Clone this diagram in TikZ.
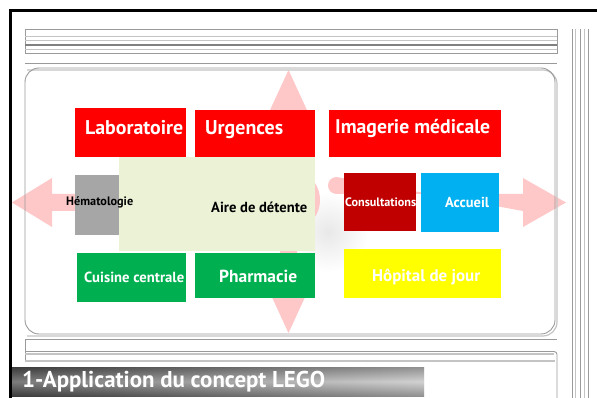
\documentclass[tikz,border=0pt]{standalone}
\usepackage{fontspec}
\setmainfont{PT Sans}
\usepackage{graphicx}
\newcommand{\fitw}[2]{\resizebox{#1pt}{!}{#2}}
\definecolor{cred}{HTML}{FF0000}
\definecolor{cdred}{HTML}{C00000}
\definecolor{ccyan}{HTML}{00B0F0}
\definecolor{cgreen}{HTML}{00B050}
\definecolor{cyel}{HTML}{FFFF00}
\definecolor{cgray}{HTML}{A6A6A6}
\definecolor{caire}{HTML}{EBF2D6}
\definecolor{cpink}{HTML}{FFC8C8}
\definecolor{frameA}{HTML}{9A9A9A}
\definecolor{frameB}{HTML}{C4C4C4}
\begin{document}
\begin{tikzpicture}[x=1pt,y=-1pt,
  box/.style={draw=none,rectangle,inner sep=0,anchor=north west},
  lbl/.style={inner sep=0,anchor=base west,font=\bfseries,text=white},
  dlbl/.style={inner sep=0,anchor=base west,font=\bfseries,text=black},
  fl/.style={draw=frameA,line width=0.9pt},
  fl2/.style={draw=frameB,line width=1.2pt}]
\useasboundingbox[fill=white] (0,0) rectangle (597,398);

% soft glow
\shade[inner color=black!9,outer color=white] (328,232) circle (40);

% pink four-way arrows
\fill[cpink] (289,200) circle (31);
\fill[cpink] (12,202.5) -- (52,178) -- (52,194) -- (262,194) -- (262,211) -- (52,211) -- (52,227) -- cycle;
\fill[cpink] (566,202.5) -- (523,178) -- (523,194) -- (336.5,194) arc (90:270:8.5) -- (523,211) -- (523,227) -- cycle;
\fill[cpink] (288.5,70) -- (312.5,122) -- (297,122) -- (297,180) -- (280,180) -- (280,122) -- (264.5,122) -- cycle;
\fill[cpink] (288.5,333) -- (312.5,281) -- (297,281) -- (297,220) -- (280,220) -- (280,281) -- (264.5,281) -- cycle;

% top bar
\draw[fl] (25,29) rectangle (557,53);
\draw[draw=frameB,line width=0.8pt] (25,36) -- (557,36);
\draw[draw=frameB,line width=0.6pt] (25,40) -- (557,40);
\draw[draw=gray,line width=1.4pt] (25,45) -- (557,45);
\draw[draw=frameB,line width=1.6pt] (25,49.5) -- (557,49.5);
\draw[fl] (25,63.5) -- (557,63.5);

% main rounded frame
\draw[fl2] (27,70) [rounded corners=14pt] -- (557,70) -- (557,336) -- (27,336);
\draw[fl,rounded corners=14pt] (25,68) rectangle (555,334);

% right vertical lines
\draw[fl] (572,29) -- (572,398);
\draw[draw=frameB,line width=1pt] (575.5,29) -- (575.5,398);
\draw[fl] (580,29) -- (580,398);
\draw[draw=frameB,line width=1pt] (584,29) -- (584,398);
\draw[fl] (588.5,29) -- (588.5,398);

% bottom bar
\draw[fl] (25,362) -- (25,339) -- (557,339);
\draw[draw=frameB,line width=1.6pt] (25,354) -- (554,354);
\draw[fl,rounded corners=3pt] (25,351.5) -- (557,351.5) -- (557,398);
\draw[draw=frameB,line width=1.2pt] (25,361) -- (555,361);

% title bar
\shade[left color={rgb,255:red,80;green,80;blue,80},right color={rgb,255:red,195;green,195;blue,195}] (12,367) rectangle (424,396);
\shade[top color=black,bottom color=black,middle color=white,opacity=0.25] (12,367) rectangle (424,396);
\node[lbl] (title) at (22,387) {\fitw{303}{1-Application du concept LEGO}};

% black frame
\draw[line width=3pt] (10.5,398) -- (10.5,10.5) -- (597,10.5);

% boxes
\node[box,fill=cred,minimum width=111pt,minimum height=49pt] (lab) at (75,108) {};
\node[box,fill=cred,minimum width=120pt,minimum height=47pt] (urg) at (195,110) {};
\node[box,fill=cred,minimum width=172pt,minimum height=47pt] (img) at (329,110) {};
\node[box,fill=caire,minimum width=196pt,minimum height=94pt] (aire) at (119,157) {};
\node[box,fill=cgray,minimum width=44pt,minimum height=60pt] (hem) at (75,175) {};
\node[box,fill=cdred,minimum width=72pt,minimum height=58pt] (cons) at (344,173) {};
\node[box,fill=ccyan,minimum width=78pt,minimum height=59pt] (acc) at (421,173) {};
\node[box,fill=cgreen,minimum width=109pt,minimum height=49pt] (cuis) at (77,253) {};
\node[box,fill=cgreen,minimum width=120pt,minimum height=45pt] (phar) at (195,253) {};
\node[box,fill=cyel,minimum width=157pt,minimum height=49pt] (hop) at (344,249) {};

% labels
\node[lbl] (tlab) at (85,135) {\fitw{98}{Laboratoire}};
\node[lbl] (turg) at (205,135) {\fitw{78}{Urgences}};
\node[lbl] (timg) at (335,134) {\fitw{155}{Imagerie médicale}};
\node[dlbl] (them) at (66,206) {\fitw{67}{Hématologie}};
\node[dlbl] (taire) at (211,212.5) {\fitw{96}{Aire de détente}};
\node[lbl] (tcons) at (345,207) {\fitw{71}{Consultations}};
\node[lbl] (tacc) at (445,208) {\fitw{44}{Accueil}};
\node[lbl] (tcuis) at (84,282) {\fitw{100}{Cuisine centrale}};
\node[lbl] (tphar) at (219,282) {\fitw{78}{Pharmacie}};
\node[lbl] (thop) at (372,281) {\fitw{108}{Hôpital de jour}};
\end{tikzpicture}
\end{document}
